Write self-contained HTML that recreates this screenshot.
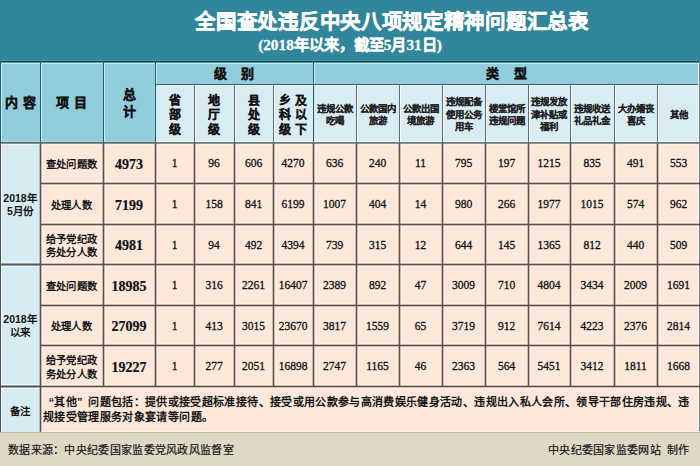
<!DOCTYPE html><html lang="zh-CN"><head><meta charset="utf-8"><style>
*{margin:0;padding:0;box-sizing:border-box}
html,body{width:700px;height:466px;overflow:hidden;background:#dfd8c5}
body{position:relative;font-family:"Liberation Sans",sans-serif;color:#151515}
.a{position:absolute}
.c{position:absolute;display:flex;align-items:center;justify-content:center;text-align:center}
.n{font-family:"Liberation Serif",serif;font-size:11.5px;color:#111;-webkit-text-stroke:0.3px #111;padding-top:0}
.nb{font-family:"Liberation Serif",serif;font-size:14px;font-weight:bold;color:#111;-webkit-text-stroke:0.2px #111;padding-top:3px}
.lab{font-size:10.3px;font-weight:bold;line-height:13.3px;letter-spacing:0.35px;padding-top:3px}
.hd{font-size:12px;font-weight:bold;line-height:17px;-webkit-text-stroke:0.25px #111}
.sub{font-size:9.4px;font-weight:bold;line-height:12.5px;padding-top:3px;-webkit-text-stroke:0.08px #222}
</style></head><body>
<div class="a" style="left:0px;top:0px;width:700px;height:61px;background:#31869b;"></div>
<div class="a" style="left:0px;top:60px;width:700px;height:1px;background:#4393a6;"></div>
<div class="c" style="left:0;top:5px;width:784px;height:30px;color:#fff;font-size:20.5px;font-weight:bold;letter-spacing:0.7px;-webkit-text-stroke:0.5px #fff">全国查处违反中央八项规定精神问题汇总表</div>
<div class="c" style="left:0;top:32px;width:700px;height:22px;color:#fff;font-size:15.3px;font-weight:bold;-webkit-text-stroke:0.3px #fff;font-family:'Liberation Serif',serif">(2018年以来，截至5月31日)</div>
<div class="a" style="left:0px;top:61px;width:700px;height:81px;background:#92cddc;"></div>
<div class="a" style="left:155px;top:84px;width:545px;height:58px;background:#d9ecf3;"></div>
<div class="a" style="left:0px;top:142px;width:700px;height:290px;background:#fde8db;"></div>
<div class="a" style="left:0px;top:142px;width:40px;height:290px;background:#d7ecf2;"></div>
<div class="a" style="left:0px;top:63px;width:700px;height:1px;background:#c0eef8;"></div>
<div class="a" style="left:155px;top:85px;width:545px;height:1px;background:#f4fbff;"></div>
<div class="a" style="left:1px;top:63px;width:1px;height:79px;background:#c0eef8;"></div>
<div class="a" style="left:41px;top:63px;width:1px;height:79px;background:#c0eef8;"></div>
<div class="a" style="left:104px;top:63px;width:1px;height:79px;background:#c0eef8;"></div>
<div class="a" style="left:156px;top:63px;width:1px;height:79px;background:#c0eef8;"></div>
<div class="a" style="left:314px;top:63px;width:1px;height:79px;background:#c0eef8;"></div>
<div class="a" style="left:195px;top:85px;width:1px;height:57px;background:#f6fcff;"></div>
<div class="a" style="left:235px;top:85px;width:1px;height:57px;background:#f6fcff;"></div>
<div class="a" style="left:274px;top:85px;width:1px;height:57px;background:#f6fcff;"></div>
<div class="a" style="left:357px;top:85px;width:1px;height:57px;background:#f6fcff;"></div>
<div class="a" style="left:400px;top:85px;width:1px;height:57px;background:#f6fcff;"></div>
<div class="a" style="left:443px;top:85px;width:1px;height:57px;background:#f6fcff;"></div>
<div class="a" style="left:486px;top:85px;width:1px;height:57px;background:#f6fcff;"></div>
<div class="a" style="left:529px;top:85px;width:1px;height:57px;background:#f6fcff;"></div>
<div class="a" style="left:571px;top:85px;width:1px;height:57px;background:#f6fcff;"></div>
<div class="a" style="left:615px;top:85px;width:1px;height:57px;background:#f6fcff;"></div>
<div class="a" style="left:658px;top:85px;width:1px;height:57px;background:#f6fcff;"></div>
<div class="a" style="left:0px;top:141px;width:155px;height:1px;background:#a8e0e8;"></div>
<div class="a" style="left:155px;top:141px;width:545px;height:1px;background:#eef8fa;"></div>
<div class="a" style="left:0px;top:144px;width:700px;height:1px;background:#fdf1e6;"></div>
<div class="a" style="left:40px;top:185px;width:660px;height:1px;background:#fdf1e6;"></div>
<div class="a" style="left:40px;top:181px;width:660px;height:1px;background:#fdf1e6;"></div>
<div class="a" style="left:40px;top:226px;width:660px;height:1px;background:#fdf1e6;"></div>
<div class="a" style="left:40px;top:222px;width:660px;height:1px;background:#fdf1e6;"></div>
<div class="a" style="left:0px;top:266px;width:700px;height:1px;background:#fdf1e6;"></div>
<div class="a" style="left:0px;top:262px;width:700px;height:1px;background:#fdf1e6;"></div>
<div class="a" style="left:40px;top:307px;width:660px;height:1px;background:#fdf1e6;"></div>
<div class="a" style="left:40px;top:303px;width:660px;height:1px;background:#fdf1e6;"></div>
<div class="a" style="left:40px;top:347px;width:660px;height:1px;background:#fdf1e6;"></div>
<div class="a" style="left:40px;top:343px;width:660px;height:1px;background:#fdf1e6;"></div>
<div class="a" style="left:0px;top:388px;width:700px;height:1px;background:#fdf1e6;"></div>
<div class="a" style="left:0px;top:384px;width:700px;height:1px;background:#fdf1e6;"></div>
<div class="a" style="left:42px;top:143px;width:1px;height:289px;background:#fdf1e6;"></div>
<div class="a" style="left:105px;top:143px;width:1px;height:243px;background:#fdf1e6;"></div>
<div class="a" style="left:157px;top:143px;width:1px;height:243px;background:#fdf1e6;"></div>
<div class="a" style="left:196px;top:143px;width:1px;height:243px;background:#fdf1e6;"></div>
<div class="a" style="left:236px;top:143px;width:1px;height:243px;background:#fdf1e6;"></div>
<div class="a" style="left:275px;top:143px;width:1px;height:243px;background:#fdf1e6;"></div>
<div class="a" style="left:315px;top:143px;width:1px;height:243px;background:#fdf1e6;"></div>
<div class="a" style="left:358px;top:143px;width:1px;height:243px;background:#fdf1e6;"></div>
<div class="a" style="left:401px;top:143px;width:1px;height:243px;background:#fdf1e6;"></div>
<div class="a" style="left:444px;top:143px;width:1px;height:243px;background:#fdf1e6;"></div>
<div class="a" style="left:487px;top:143px;width:1px;height:243px;background:#fdf1e6;"></div>
<div class="a" style="left:530px;top:143px;width:1px;height:243px;background:#fdf1e6;"></div>
<div class="a" style="left:572px;top:143px;width:1px;height:243px;background:#fdf1e6;"></div>
<div class="a" style="left:616px;top:143px;width:1px;height:243px;background:#fdf1e6;"></div>
<div class="a" style="left:659px;top:143px;width:1px;height:243px;background:#fdf1e6;"></div>
<div class="a" style="left:1px;top:143px;width:1px;height:289px;background:#f0fbff;"></div>
<div class="a" style="left:0px;top:266px;width:40px;height:1px;background:#f0fbff;"></div>
<div class="a" style="left:0px;top:262px;width:40px;height:1px;background:#f0fbff;"></div>
<div class="a" style="left:0px;top:388px;width:40px;height:1px;background:#f0fbff;"></div>
<div class="a" style="left:0px;top:384px;width:40px;height:1px;background:#f0fbff;"></div>
<div class="a" style="left:0px;top:61px;width:700px;height:1px;background:#0f4d5e;"></div>
<div class="a" style="left:0px;top:62px;width:700px;height:1px;background:#4f8f9e;"></div>
<div class="a" style="left:155px;top:84px;width:545px;height:1px;background:#35606a;"></div>
<div class="a" style="left:0px;top:61px;width:1px;height:81px;background:#24606f;"></div>
<div class="a" style="left:40px;top:61px;width:1px;height:81px;background:#24606f;"></div>
<div class="a" style="left:103px;top:61px;width:1px;height:81px;background:#24606f;"></div>
<div class="a" style="left:155px;top:61px;width:1px;height:81px;background:#24606f;"></div>
<div class="a" style="left:313px;top:61px;width:1px;height:81px;background:#24606f;"></div>
<div class="a" style="left:194px;top:84px;width:1px;height:58px;background:#5a7076;"></div>
<div class="a" style="left:234px;top:84px;width:1px;height:58px;background:#5a7076;"></div>
<div class="a" style="left:273px;top:84px;width:1px;height:58px;background:#5a7076;"></div>
<div class="a" style="left:356px;top:84px;width:1px;height:58px;background:#5a7076;"></div>
<div class="a" style="left:399px;top:84px;width:1px;height:58px;background:#5a7076;"></div>
<div class="a" style="left:442px;top:84px;width:1px;height:58px;background:#5a7076;"></div>
<div class="a" style="left:485px;top:84px;width:1px;height:58px;background:#5a7076;"></div>
<div class="a" style="left:528px;top:84px;width:1px;height:58px;background:#5a7076;"></div>
<div class="a" style="left:570px;top:84px;width:1px;height:58px;background:#5a7076;"></div>
<div class="a" style="left:614px;top:84px;width:1px;height:58px;background:#5a7076;"></div>
<div class="a" style="left:657px;top:84px;width:1px;height:58px;background:#5a7076;"></div>
<div class="a" style="left:698px;top:63px;width:1px;height:369px;background:#f4fbff;"></div>
<div class="a" style="left:699px;top:61px;width:1px;height:371px;background:#6a8088;"></div>
<div class="a" style="left:0px;top:142px;width:700px;height:1px;background:#55676c;"></div>
<div class="a" style="left:0px;top:143px;width:700px;height:1px;background:#8f9490;"></div>
<div class="a" style="left:155px;top:142px;width:545px;height:1px;background:#67767a;"></div>
<div class="a" style="left:40px;top:183px;width:660px;height:1px;background:#5e5044;"></div>
<div class="a" style="left:40px;top:184px;width:660px;height:1px;background:rgba(94,80,68,0.3);"></div>
<div class="a" style="left:40px;top:182px;width:660px;height:1px;background:rgba(94,80,68,0.3);"></div>
<div class="a" style="left:40px;top:224px;width:660px;height:1px;background:#5e5044;"></div>
<div class="a" style="left:40px;top:225px;width:660px;height:1px;background:rgba(94,80,68,0.3);"></div>
<div class="a" style="left:40px;top:223px;width:660px;height:1px;background:rgba(94,80,68,0.3);"></div>
<div class="a" style="left:0px;top:264px;width:700px;height:1px;background:#5e5044;"></div>
<div class="a" style="left:0px;top:265px;width:700px;height:1px;background:rgba(94,80,68,0.3);"></div>
<div class="a" style="left:0px;top:263px;width:700px;height:1px;background:rgba(94,80,68,0.3);"></div>
<div class="a" style="left:0px;top:264px;width:40px;height:1px;background:#4f5b5e;"></div>
<div class="a" style="left:0px;top:265px;width:40px;height:1px;background:rgba(80,90,95,0.3);"></div>
<div class="a" style="left:0px;top:263px;width:40px;height:1px;background:rgba(80,90,95,0.3);"></div>
<div class="a" style="left:40px;top:305px;width:660px;height:1px;background:#5e5044;"></div>
<div class="a" style="left:40px;top:306px;width:660px;height:1px;background:rgba(94,80,68,0.3);"></div>
<div class="a" style="left:40px;top:304px;width:660px;height:1px;background:rgba(94,80,68,0.3);"></div>
<div class="a" style="left:40px;top:345px;width:660px;height:1px;background:#5e5044;"></div>
<div class="a" style="left:40px;top:346px;width:660px;height:1px;background:rgba(94,80,68,0.3);"></div>
<div class="a" style="left:40px;top:344px;width:660px;height:1px;background:rgba(94,80,68,0.3);"></div>
<div class="a" style="left:0px;top:386px;width:700px;height:1px;background:#5e5044;"></div>
<div class="a" style="left:0px;top:387px;width:700px;height:1px;background:rgba(94,80,68,0.3);"></div>
<div class="a" style="left:0px;top:385px;width:700px;height:1px;background:rgba(94,80,68,0.3);"></div>
<div class="a" style="left:0px;top:386px;width:40px;height:1px;background:#4f5b5e;"></div>
<div class="a" style="left:0px;top:387px;width:40px;height:1px;background:rgba(80,90,95,0.3);"></div>
<div class="a" style="left:0px;top:385px;width:40px;height:1px;background:rgba(80,90,95,0.3);"></div>
<div class="a" style="left:40px;top:143px;width:1px;height:289px;background:#5e5044;"></div>
<div class="a" style="left:41px;top:143px;width:1px;height:289px;background:rgba(94,80,68,0.3);"></div>
<div class="a" style="left:39px;top:143px;width:1px;height:289px;background:rgba(94,80,68,0.3);"></div>
<div class="a" style="left:103px;top:143px;width:1px;height:243px;background:#5e5044;"></div>
<div class="a" style="left:104px;top:143px;width:1px;height:243px;background:rgba(94,80,68,0.3);"></div>
<div class="a" style="left:102px;top:143px;width:1px;height:243px;background:rgba(94,80,68,0.3);"></div>
<div class="a" style="left:155px;top:143px;width:1px;height:243px;background:#5e5044;"></div>
<div class="a" style="left:156px;top:143px;width:1px;height:243px;background:rgba(94,80,68,0.3);"></div>
<div class="a" style="left:154px;top:143px;width:1px;height:243px;background:rgba(94,80,68,0.3);"></div>
<div class="a" style="left:194px;top:143px;width:1px;height:243px;background:#5e5044;"></div>
<div class="a" style="left:195px;top:143px;width:1px;height:243px;background:rgba(94,80,68,0.3);"></div>
<div class="a" style="left:193px;top:143px;width:1px;height:243px;background:rgba(94,80,68,0.3);"></div>
<div class="a" style="left:234px;top:143px;width:1px;height:243px;background:#5e5044;"></div>
<div class="a" style="left:235px;top:143px;width:1px;height:243px;background:rgba(94,80,68,0.3);"></div>
<div class="a" style="left:233px;top:143px;width:1px;height:243px;background:rgba(94,80,68,0.3);"></div>
<div class="a" style="left:273px;top:143px;width:1px;height:243px;background:#5e5044;"></div>
<div class="a" style="left:274px;top:143px;width:1px;height:243px;background:rgba(94,80,68,0.3);"></div>
<div class="a" style="left:272px;top:143px;width:1px;height:243px;background:rgba(94,80,68,0.3);"></div>
<div class="a" style="left:313px;top:143px;width:1px;height:243px;background:#5e5044;"></div>
<div class="a" style="left:314px;top:143px;width:1px;height:243px;background:rgba(94,80,68,0.3);"></div>
<div class="a" style="left:312px;top:143px;width:1px;height:243px;background:rgba(94,80,68,0.3);"></div>
<div class="a" style="left:356px;top:143px;width:1px;height:243px;background:#5e5044;"></div>
<div class="a" style="left:357px;top:143px;width:1px;height:243px;background:rgba(94,80,68,0.3);"></div>
<div class="a" style="left:355px;top:143px;width:1px;height:243px;background:rgba(94,80,68,0.3);"></div>
<div class="a" style="left:399px;top:143px;width:1px;height:243px;background:#5e5044;"></div>
<div class="a" style="left:400px;top:143px;width:1px;height:243px;background:rgba(94,80,68,0.3);"></div>
<div class="a" style="left:398px;top:143px;width:1px;height:243px;background:rgba(94,80,68,0.3);"></div>
<div class="a" style="left:442px;top:143px;width:1px;height:243px;background:#5e5044;"></div>
<div class="a" style="left:443px;top:143px;width:1px;height:243px;background:rgba(94,80,68,0.3);"></div>
<div class="a" style="left:441px;top:143px;width:1px;height:243px;background:rgba(94,80,68,0.3);"></div>
<div class="a" style="left:485px;top:143px;width:1px;height:243px;background:#5e5044;"></div>
<div class="a" style="left:486px;top:143px;width:1px;height:243px;background:rgba(94,80,68,0.3);"></div>
<div class="a" style="left:484px;top:143px;width:1px;height:243px;background:rgba(94,80,68,0.3);"></div>
<div class="a" style="left:528px;top:143px;width:1px;height:243px;background:#5e5044;"></div>
<div class="a" style="left:529px;top:143px;width:1px;height:243px;background:rgba(94,80,68,0.3);"></div>
<div class="a" style="left:527px;top:143px;width:1px;height:243px;background:rgba(94,80,68,0.3);"></div>
<div class="a" style="left:570px;top:143px;width:1px;height:243px;background:#5e5044;"></div>
<div class="a" style="left:571px;top:143px;width:1px;height:243px;background:rgba(94,80,68,0.3);"></div>
<div class="a" style="left:569px;top:143px;width:1px;height:243px;background:rgba(94,80,68,0.3);"></div>
<div class="a" style="left:614px;top:143px;width:1px;height:243px;background:#5e5044;"></div>
<div class="a" style="left:615px;top:143px;width:1px;height:243px;background:rgba(94,80,68,0.3);"></div>
<div class="a" style="left:613px;top:143px;width:1px;height:243px;background:rgba(94,80,68,0.3);"></div>
<div class="a" style="left:657px;top:143px;width:1px;height:243px;background:#5e5044;"></div>
<div class="a" style="left:658px;top:143px;width:1px;height:243px;background:rgba(94,80,68,0.3);"></div>
<div class="a" style="left:656px;top:143px;width:1px;height:243px;background:rgba(94,80,68,0.3);"></div>
<div class="a" style="left:0px;top:142px;width:1px;height:290px;background:#505050;"></div>
<div class="a" style="left:41px;top:431px;width:659px;height:1px;background:#fdf3e8;"></div>
<div class="a" style="left:0px;top:432px;width:700px;height:1px;background:#bdb5a4;"></div>
<div class="c hd" style="left:0px;top:63px;width:40px;height:79px;font-size:13px;letter-spacing:0.5px;padding-left:2px">内&nbsp;容</div>
<div class="c hd" style="left:40px;top:63px;width:63px;height:79px;font-size:13px;letter-spacing:0.5px;padding-left:1px">项&nbsp;目</div>
<div class="c hd" style="left:103px;top:64px;width:52px;height:78px;font-size:13px">总<br>计</div>
<div class="c hd" style="left:155px;top:63px;width:158px;height:21px;font-size:13px">级&nbsp;&nbsp;&nbsp;&nbsp;别</div>
<div class="c hd" style="left:313px;top:63px;width:387px;height:21px;font-size:13px">类&nbsp;&nbsp;&nbsp;&nbsp;型</div>
<div class="c hd" style="left:155px;top:85px;width:39px;height:57px;font-size:12px;line-height:14.2px;padding-top:4px">省<br>部<br>级</div>
<div class="c hd" style="left:194px;top:85px;width:40px;height:57px;font-size:12px;line-height:14.2px;padding-top:4px">地<br>厅<br>级</div>
<div class="c hd" style="left:234px;top:85px;width:39px;height:57px;font-size:12px;line-height:14.2px;padding-top:4px">县<br>处<br>级</div>
<div class="c hd" style="left:273px;top:85px;width:40px;height:57px;font-size:12px;line-height:14.2px;padding-top:4px">乡&nbsp;及<br>科&nbsp;以<br>级&nbsp;下</div>
<div class="c sub" style="left:313px;top:85px;width:43px;height:57px;">违规公款<br>吃喝</div>
<div class="c sub" style="left:356px;top:85px;width:43px;height:57px;">公款国内<br>旅游</div>
<div class="c sub" style="left:399px;top:85px;width:43px;height:57px;">公款出国<br>境旅游</div>
<div class="c sub" style="left:442px;top:85px;width:43px;height:57px;">违规配备<br>使用公务<br>用车</div>
<div class="c sub" style="left:485px;top:85px;width:43px;height:57px;">楼堂馆所<br>违规问题</div>
<div class="c sub" style="left:528px;top:85px;width:42px;height:57px;">违规发放<br>津补贴或<br>福利</div>
<div class="c sub" style="left:570px;top:85px;width:44px;height:57px;">违规收送<br>礼品礼金</div>
<div class="c sub" style="left:614px;top:85px;width:43px;height:57px;">大办婚丧<br>喜庆</div>
<div class="c sub" style="left:657px;top:85px;width:43px;height:57px;">其他</div>
<div class="c lab" style="left:40px;top:143px;width:63px;height:40px;">查处问题数</div>
<div class="c nb" style="left:103px;top:143px;width:52px;height:40px;">4973</div>
<div class="c n" style="left:155px;top:143px;width:39px;height:40px;">1</div>
<div class="c n" style="left:194px;top:143px;width:40px;height:40px;">96</div>
<div class="c n" style="left:234px;top:143px;width:39px;height:40px;">606</div>
<div class="c n" style="left:273px;top:143px;width:40px;height:40px;">4270</div>
<div class="c n" style="left:313px;top:143px;width:43px;height:40px;">636</div>
<div class="c n" style="left:356px;top:143px;width:43px;height:40px;">240</div>
<div class="c n" style="left:399px;top:143px;width:43px;height:40px;">11</div>
<div class="c n" style="left:442px;top:143px;width:43px;height:40px;">795</div>
<div class="c n" style="left:485px;top:143px;width:43px;height:40px;">197</div>
<div class="c n" style="left:528px;top:143px;width:42px;height:40px;">1215</div>
<div class="c n" style="left:570px;top:143px;width:44px;height:40px;">835</div>
<div class="c n" style="left:614px;top:143px;width:43px;height:40px;">491</div>
<div class="c n" style="left:657px;top:143px;width:43px;height:40px;">553</div>
<div class="c lab" style="left:40px;top:184px;width:63px;height:40px;">处理人数</div>
<div class="c nb" style="left:103px;top:184px;width:52px;height:40px;">7199</div>
<div class="c n" style="left:155px;top:184px;width:39px;height:40px;">1</div>
<div class="c n" style="left:194px;top:184px;width:40px;height:40px;">158</div>
<div class="c n" style="left:234px;top:184px;width:39px;height:40px;">841</div>
<div class="c n" style="left:273px;top:184px;width:40px;height:40px;">6199</div>
<div class="c n" style="left:313px;top:184px;width:43px;height:40px;">1007</div>
<div class="c n" style="left:356px;top:184px;width:43px;height:40px;">404</div>
<div class="c n" style="left:399px;top:184px;width:43px;height:40px;">14</div>
<div class="c n" style="left:442px;top:184px;width:43px;height:40px;">980</div>
<div class="c n" style="left:485px;top:184px;width:43px;height:40px;">266</div>
<div class="c n" style="left:528px;top:184px;width:42px;height:40px;">1977</div>
<div class="c n" style="left:570px;top:184px;width:44px;height:40px;">1015</div>
<div class="c n" style="left:614px;top:184px;width:43px;height:40px;">574</div>
<div class="c n" style="left:657px;top:184px;width:43px;height:40px;">962</div>
<div class="c lab" style="left:40px;top:225px;width:63px;height:39px;">给予党纪政<br>务处分人数</div>
<div class="c nb" style="left:103px;top:225px;width:52px;height:39px;">4981</div>
<div class="c n" style="left:155px;top:225px;width:39px;height:39px;">1</div>
<div class="c n" style="left:194px;top:225px;width:40px;height:39px;">94</div>
<div class="c n" style="left:234px;top:225px;width:39px;height:39px;">492</div>
<div class="c n" style="left:273px;top:225px;width:40px;height:39px;">4394</div>
<div class="c n" style="left:313px;top:225px;width:43px;height:39px;">739</div>
<div class="c n" style="left:356px;top:225px;width:43px;height:39px;">315</div>
<div class="c n" style="left:399px;top:225px;width:43px;height:39px;">12</div>
<div class="c n" style="left:442px;top:225px;width:43px;height:39px;">644</div>
<div class="c n" style="left:485px;top:225px;width:43px;height:39px;">145</div>
<div class="c n" style="left:528px;top:225px;width:42px;height:39px;">1365</div>
<div class="c n" style="left:570px;top:225px;width:44px;height:39px;">812</div>
<div class="c n" style="left:614px;top:225px;width:43px;height:39px;">440</div>
<div class="c n" style="left:657px;top:225px;width:43px;height:39px;">509</div>
<div class="c lab" style="left:40px;top:265px;width:63px;height:40px;">查处问题数</div>
<div class="c nb" style="left:103px;top:265px;width:52px;height:40px;">18985</div>
<div class="c n" style="left:155px;top:265px;width:39px;height:40px;">1</div>
<div class="c n" style="left:194px;top:265px;width:40px;height:40px;">316</div>
<div class="c n" style="left:234px;top:265px;width:39px;height:40px;">2261</div>
<div class="c n" style="left:273px;top:265px;width:40px;height:40px;">16407</div>
<div class="c n" style="left:313px;top:265px;width:43px;height:40px;">2389</div>
<div class="c n" style="left:356px;top:265px;width:43px;height:40px;">892</div>
<div class="c n" style="left:399px;top:265px;width:43px;height:40px;">47</div>
<div class="c n" style="left:442px;top:265px;width:43px;height:40px;">3009</div>
<div class="c n" style="left:485px;top:265px;width:43px;height:40px;">710</div>
<div class="c n" style="left:528px;top:265px;width:42px;height:40px;">4804</div>
<div class="c n" style="left:570px;top:265px;width:44px;height:40px;">3434</div>
<div class="c n" style="left:614px;top:265px;width:43px;height:40px;">2009</div>
<div class="c n" style="left:657px;top:265px;width:43px;height:40px;">1691</div>
<div class="c lab" style="left:40px;top:306px;width:63px;height:39px;">处理人数</div>
<div class="c nb" style="left:103px;top:306px;width:52px;height:39px;">27099</div>
<div class="c n" style="left:155px;top:306px;width:39px;height:39px;">1</div>
<div class="c n" style="left:194px;top:306px;width:40px;height:39px;">413</div>
<div class="c n" style="left:234px;top:306px;width:39px;height:39px;">3015</div>
<div class="c n" style="left:273px;top:306px;width:40px;height:39px;">23670</div>
<div class="c n" style="left:313px;top:306px;width:43px;height:39px;">3817</div>
<div class="c n" style="left:356px;top:306px;width:43px;height:39px;">1559</div>
<div class="c n" style="left:399px;top:306px;width:43px;height:39px;">65</div>
<div class="c n" style="left:442px;top:306px;width:43px;height:39px;">3719</div>
<div class="c n" style="left:485px;top:306px;width:43px;height:39px;">912</div>
<div class="c n" style="left:528px;top:306px;width:42px;height:39px;">7614</div>
<div class="c n" style="left:570px;top:306px;width:44px;height:39px;">4223</div>
<div class="c n" style="left:614px;top:306px;width:43px;height:39px;">2376</div>
<div class="c n" style="left:657px;top:306px;width:43px;height:39px;">2814</div>
<div class="c lab" style="left:40px;top:346px;width:63px;height:40px;">给予党纪政<br>务处分人数</div>
<div class="c nb" style="left:103px;top:346px;width:52px;height:40px;">19227</div>
<div class="c n" style="left:155px;top:346px;width:39px;height:40px;">1</div>
<div class="c n" style="left:194px;top:346px;width:40px;height:40px;">277</div>
<div class="c n" style="left:234px;top:346px;width:39px;height:40px;">2051</div>
<div class="c n" style="left:273px;top:346px;width:40px;height:40px;">16898</div>
<div class="c n" style="left:313px;top:346px;width:43px;height:40px;">2747</div>
<div class="c n" style="left:356px;top:346px;width:43px;height:40px;">1165</div>
<div class="c n" style="left:399px;top:346px;width:43px;height:40px;">46</div>
<div class="c n" style="left:442px;top:346px;width:43px;height:40px;">2363</div>
<div class="c n" style="left:485px;top:346px;width:43px;height:40px;">564</div>
<div class="c n" style="left:528px;top:346px;width:42px;height:40px;">5451</div>
<div class="c n" style="left:570px;top:346px;width:44px;height:40px;">3412</div>
<div class="c n" style="left:614px;top:346px;width:43px;height:40px;">1811</div>
<div class="c n" style="left:657px;top:346px;width:43px;height:40px;">1668</div>
<div class="c lab" style="left:0px;top:143px;width:40px;height:121px;font-size:10.5px;letter-spacing:0">2018年<br>5月份</div>
<div class="c lab" style="left:0px;top:264px;width:40px;height:121px;font-size:10.5px;letter-spacing:0">2018年<br>以来</div>
<div class="c lab" style="left:0px;top:389px;width:40px;height:43px;">备注</div>
<div class="a lab" style="left:43px;top:395px;width:656px;font-size:11px;line-height:15px;letter-spacing:0.35px;padding-top:0;text-align:left;white-space:nowrap;-webkit-text-stroke:0"><span style="display:inline-block;width:11.3px;text-align:right;letter-spacing:0">“</span>其他<span style="display:inline-block;width:11.3px;text-align:left;letter-spacing:0">”</span>问题包括：提供或接受超标准接待、接受或用公款参与高消费娱乐健身活动、违规出入私人会所、领导干部住房违规、违<br>规接受管理服务对象宴请等问题。</div>
<div class="a" style="left:8px;top:441px;font-size:11px;color:#111;letter-spacing:0.3px;-webkit-text-stroke:0.2px #222;font-family:'Liberation Serif',serif">数据来源：中央纪委国家监委党风政风监督室</div>
<div class="a" style="left:548px;top:441px;font-size:11px;color:#111;letter-spacing:0.3px;-webkit-text-stroke:0.2px #222;font-family:'Liberation Serif',serif">中央纪委国家监委网站&nbsp;&nbsp;制作</div>
</body></html>
